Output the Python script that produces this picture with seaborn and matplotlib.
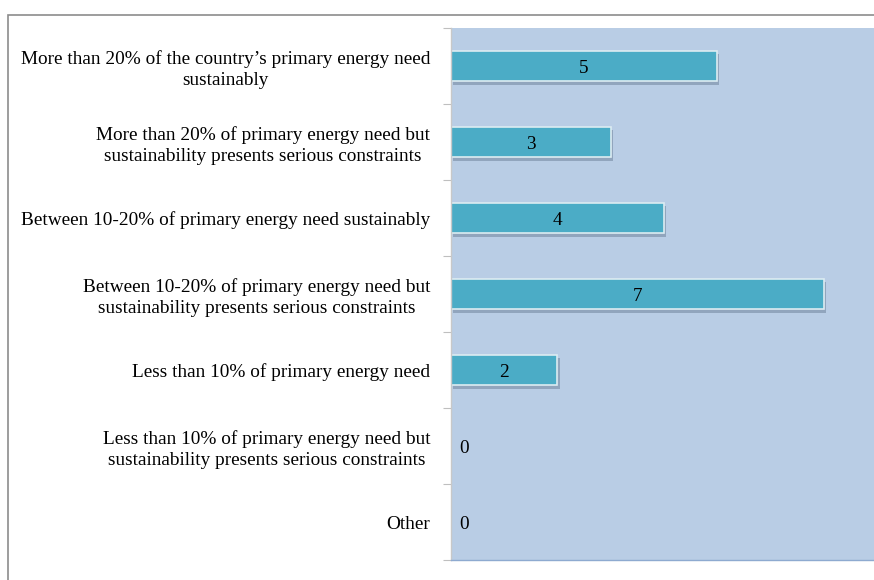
import matplotlib
matplotlib.use("Agg")
import matplotlib.pyplot as plt
import matplotlib.patheffects as pe
from matplotlib.patches import Rectangle
import seaborn as sns
import pandas as pd
import numpy as np

categories = [
    "More than 20% of the country\u2019s primary energy need\nsustainably",
    "More than 20% of primary energy need but\nsustainability presents serious constraints",
    "Between 10-20% of primary energy need sustainably",
    "Between 10-20% of primary energy need but\nsustainability presents serious constraints",
    "Less than 10% of primary energy need",
    "Less than 10% of primary energy need but\nsustainability presents serious constraints",
    "Other",
]
counts = [5, 3, 4, 7, 2, 0, 0]

df = pd.DataFrame({"category": categories, "count": counts})

sns.set_style("white")
plt.rcParams["font.family"] = ["Liberation Serif", "DejaVu Serif"]
plt.rcParams["text.color"] = "black"
plt.rcParams["ytick.color"] = "#bfbfbf"
plt.rcParams["ytick.labelcolor"] = "black"

FS = 13.9

fig = plt.figure(figsize=(8.74, 5.80), dpi=100)
ax = fig.add_axes([451 / 874, 1 - 560 / 580, 426 / 874, 532 / 580])
ax.set_facecolor("#b9cde5")

sns.barplot(
    data=df, y="category", x="count", orient="h", ax=ax,
    color="#4bacc6", saturation=1, width=0.4,
    edgecolor="#dcecf2", linewidth=1.2,
)
for bar in ax.patches:
    bar.set_path_effects([
        pe.SimplePatchShadow(offset=(1.5, -2.5), shadow_rgbFace="#6b7f96", alpha=0.5),
        pe.Normal(),
    ])

ax.set_xlim(0, 8)
ax.set_ylim(len(categories) - 0.5, -0.5)
ax.set_xlabel("")
ax.set_ylabel("")
ax.set_xticks([])

# value labels
for i, v in enumerate(counts):
    if v > 0:
        ax.text(v / 2, i + 0.03, str(v), ha="center", va="center", fontsize=FS, color="black")
    else:
        ax.text(0.15, i + 0.03, str(v), ha="left", va="center", fontsize=FS, color="black")

# category labels, centred lines, right aligned against the axis
ax.set_yticks(range(len(categories)))
ax.set_yticklabels(categories, fontsize=FS, multialignment="center", linespacing=1.3)
ax.tick_params(axis="y", which="major", left=False, length=0, pad=15)
ax.set_yticks(np.arange(-0.5, len(categories), 1.0), minor=True)
ax.tick_params(axis="y", which="minor", left=True, length=6, width=0.8, color="#bfbfbf")

for side in ["top", "right"]:
    ax.spines[side].set_visible(False)
ax.spines["left"].set_color("#c8c8c8")
ax.spines["left"].set_linewidth(1.0)
ax.spines["bottom"].set_color("#8eaad0")
ax.spines["bottom"].set_linewidth(1.0)

# outer chart frame
fig.patches.append(Rectangle((8 / 874, -0.2), 1.5, 1.2 - 15 / 580,
                             transform=fig.transFigure, fill=False,
                             edgecolor="#8c8c8c", linewidth=1.2))

fig.savefig("out.png", dpi=100)
